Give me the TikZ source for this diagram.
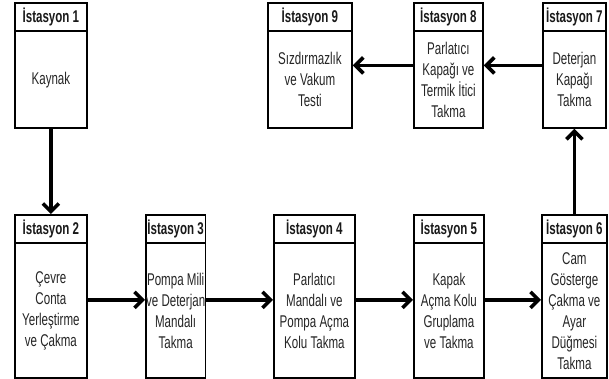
\documentclass[tikz,border=0pt]{standalone}
\usepackage{fontspec}
\setmainfont[FakeStretch=0.68]{Liberation Sans}
\usetikzlibrary{arrows.meta,calc}
\tikzset{
  boxst/.style={draw, line width=1.8pt, inner sep=0pt, fill=white},
  hdr/.style={font=\bfseries\fontsize{17}{19}\selectfont, inner sep=0pt, text=black!90},
  bodytxt/.style={font=\fontsize{17}{21}\selectfont, align=center, inner sep=0pt, text=black!85},
  flow/.style={line width=3.6pt, -{Straight Barb[length=8pt,width=16pt]}}
}
\newcommand\stn[7]{%
  \node[boxst, anchor=north west, minimum width=#4pt, minimum height=#5pt] (#1) at (#2,#3) {};
  \draw[line width=1.5pt] ([yshift=-29pt]#1.north west) -- ([yshift=-29pt]#1.north east);
  \node[hdr] (#1h) at ([yshift=-15pt]#1.north) {İstasyon #6};
  \node[bodytxt] (#1t) at ($([yshift=-29pt]#1.north)!0.5!(#1.south)$) {#7};
}
\begin{document}
\begin{tikzpicture}[x=1pt,y=-1pt]
\useasboundingbox (0,0) rectangle (609,379);
\stn{s1}{14}{2}{72}{125}{1}{Kaynak}
\stn{s9}{267}{2}{84}{125}{9}{Sızdırmazlık\\ve Vakum\\Testi}
\stn{s8}{413}{2}{69}{125}{8}{Parlatıcı\\Kapağı ve\\Termik İtici\\Takma}
\stn{s7}{542}{2}{63}{125}{7}{Deterjan\\Kapağı\\Takma}
\stn{s2}{14}{214}{72}{163}{2}{Çevre\\Conta\\Yerleştirme\\ve Çakma}
\stn{s3}{145}{214}{59.5}{163}{3}{Pompa Mili\\ve Deterjan\\Mandalı\\Takma}
\stn{s4}{273}{214}{81}{163}{4}{Parlatıcı\\Mandalı ve\\Pompa Açma\\Kolu Takma}
\stn{s5}{413}{214}{70}{163}{5}{Kapak\\Açma Kolu\\Gruplama\\ve Takma}
\stn{s6}{541}{214}{65}{163}{6}{Cam\\Gösterge\\Çakma ve\\Ayar\\Düğmesi\\Takma}
\draw[flow] (s1.south) -- (s2.north);
\draw[flow] ([yshift=-3.5pt]s2.east) -- ([yshift=-3.5pt]s2.east -| s3.west);
\draw[flow] ([yshift=-3.5pt]s3.east) -- ([yshift=-3.5pt]s3.east -| s4.west);
\draw[flow] ([yshift=-3.5pt]s4.east) -- ([yshift=-3.5pt]s4.east -| s5.west);
\draw[flow] ([yshift=-3.5pt]s5.east) -- ([yshift=-3.5pt]s5.east -| s6.west);
\draw[flow] (s6.north) -- (s7.south);
\draw[flow] (s7.west) -- (s8.east);
\draw[flow] (s8.west) -- (s9.east);
\end{tikzpicture}
\end{document}
